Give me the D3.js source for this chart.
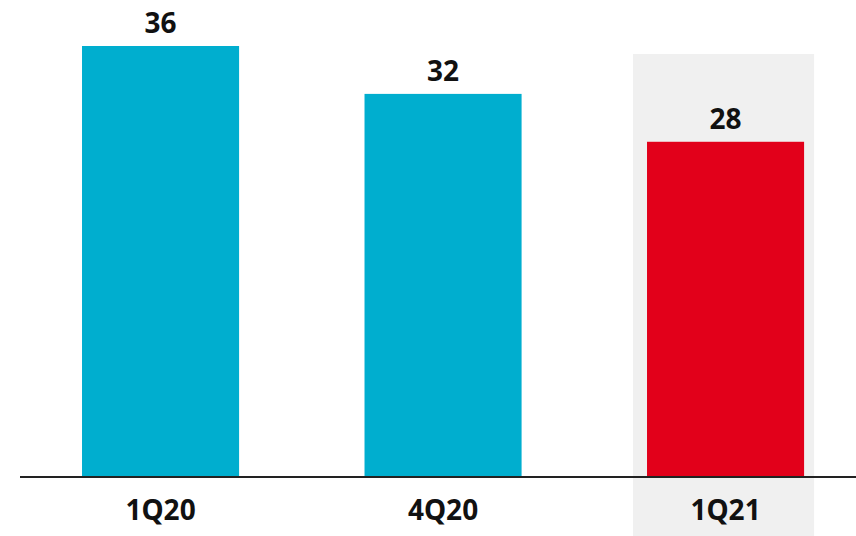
<!DOCTYPE html>
<html>
<head>
<meta charset="utf-8">
<script src="https://cdn.jsdelivr.net/npm/d3@7"></script>
<style>
  html, body { margin: 0; padding: 0; background: #fff; }
  svg text { font-family: "Noto Sans", sans-serif; font-weight: bold; fill: #111; }
</style>
</head>
<body>
<div id="chart"></div>
<script>
// chart data
var categories = ["1Q20", "4Q20", "1Q21"];
var values = [36, 32, 28];
var highlighted = ["1Q21"];

var width = 856, height = 536;
var baseY = 477;

var svg = d3.select("#chart").append("svg")
  .attr("width", width)
  .attr("height", height);

var x = d3.scaleBand()
  .domain(categories)
  .range([19.3, 866.8])
  .paddingInner(0.444)
  .paddingOuter(0.222);

var y = d3.scaleLinear()
  .domain([0, 36])
  .range([baseY, 46]);

// grey box behind the current quarter
svg.selectAll(".hl").data(highlighted)
  .join("rect")
  .attr("class", "hl")
  .attr("x", d => x(d) - 14)
  .attr("y", 54)
  .attr("width", x.bandwidth() + 24)
  .attr("height", height - 54)
  .attr("fill", "#f0f0f0");

svg.selectAll(".bar").data(categories)
  .join("rect")
  .attr("class", "bar")
  .attr("x", d => x(d))
  .attr("y", (d, i) => y(values[i]))
  .attr("width", x.bandwidth())
  .attr("height", (d, i) => baseY - y(values[i]))
  .attr("fill", d => highlighted.indexOf(d) > -1 ? "#e2001a" : "#00aecf");

svg.selectAll(".val").data(categories)
  .join("text")
  .attr("class", "val")
  .attr("x", d => x(d) + x.bandwidth() / 2)
  .attr("y", (d, i) => y(values[i]) - 13)
  .attr("text-anchor", "middle")
  .attr("font-size", 28)
  .text((d, i) => values[i]);

// axis line + category labels
var axis = svg.append("g")
  .attr("transform", `translate(0,${baseY})`)
  .call(d3.axisBottom(x).tickSize(0).tickPadding(0));
axis.select(".domain").remove();
axis.selectAll("text")
  .attr("font-size", 28)
  .attr("dy", null)
  .attr("y", 43)
  .attr("fill", "#111");

svg.append("line")
  .attr("x1", 20)
  .attr("x2", width)
  .attr("y1", baseY)
  .attr("y2", baseY)
  .attr("stroke", "#222")
  .attr("stroke-width", 2);
</script>
</body>
</html>
